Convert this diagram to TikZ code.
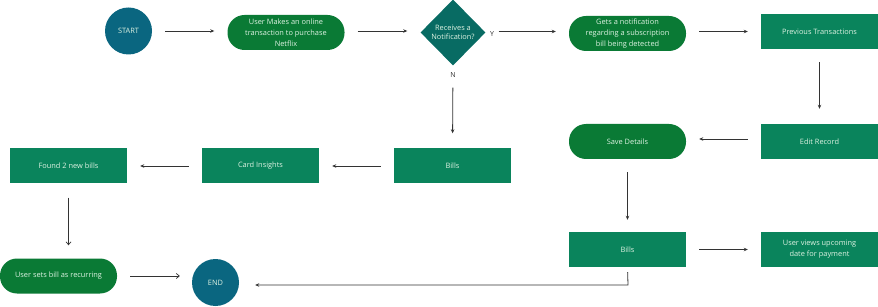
\documentclass[tikz,border=0pt]{standalone}
\usepackage{fontspec}
\setmainfont{Open Sans}
\usetikzlibrary{shapes.geometric,arrows.meta}
\definecolor{circcol}{HTML}{0A6680}
\definecolor{diamcol}{HTML}{086B63}
\definecolor{pillcol}{HTML}{0A7A35}
\definecolor{rectcol}{HTML}{0A845C}
\definecolor{txtcol}{HTML}{DDF2E2}
\definecolor{linecol}{HTML}{333333}
\begin{document}
\begin{tikzpicture}[x=1pt,y=-1pt,
  base/.style={text=txtcol,font=\fontsize{7.4}{10.8}\selectfont,align=center,inner sep=0pt},
  circ/.style={base,circle,fill=circcol,minimum size=47pt},
  pill/.style={base,rectangle,rounded corners=17pt,fill=pillcol,minimum width=117pt,minimum height=35pt},
  rectbox/.style={base,rectangle,fill=rectcol,minimum width=117pt,minimum height=35pt},
  diam/.style={base,diamond,fill=diamcol,minimum width=65pt,minimum height=66pt,font=\fontsize{7.4}{9.5}\selectfont},
  conn/.style={draw=linecol,line width=0.8pt,-{Stealth[length=4pt,width=3.5pt]},shorten <=13pt,shorten >=13pt},
  openconn/.style={draw=linecol,line width=0.7pt,-{Straight Barb[length=3pt,width=5pt]},shorten <=13pt,shorten >=13pt},
  lbl/.style={font=\fontsize{7}{8}\selectfont,text=linecol,inner sep=0pt}]
\useasboundingbox (0,0) rectangle (878,307);
% nodes
\node[circ] (start) at (128.5,31) {START};
\node[pill] (user) at (286,32.5) {User Makes an online\\transaction to purchase\\Netflix};
\node[diam] (diam) at (453,32.5) {Receives a\\Notification?};
\node[pill] (notif) at (627.5,33.5) {Gets a notification\\regarding a subscription\\bill being detected};
\node[rectbox] (prev) at (819.5,31.5) {Previous Transactions};
\node[rectbox] (edit) at (819.5,141.5) {Edit Record};
\node[pill] (save) at (627.5,141.5) {Save Details};
\node[rectbox] (billsb) at (627.5,249.5) {Bills};
\node[rectbox] (views) at (819.5,249.5) {User views upcoming\\date for payment};
\node[rectbox] (bills) at (452.5,166) {Bills};
\node[rectbox] (card) at (260.5,166) {Card Insights};
\node[rectbox] (found) at (68.5,166) {Found 2 new bills};
\node[pill] (sets) at (58.5,276) {User sets bill as recurring};
\node[circ] (end) at (215.5,282.5) {END};
\node[lbl] (ylbl) at (492,34) {Y};
\node[lbl] (nlbl) at (453,75) {N};
% connectors
\draw[conn] (start.east) -- (start.east -| user.west);
\draw[conn] (user.east |- start.east) -- (start.east -| diam.west);
\draw[conn] (diam.east) ++(0,-1) coordinate (de) (de) -- (de -| notif.west);
\draw[conn] (notif.east |- prev.west) -- (prev.west);
\draw[conn,shorten >=15pt] (prev.south) -- (edit.north);
\draw[conn] (edit.west) ++(0,-2.5) coordinate (ew) (ew) -- (ew -| save.east);
\draw[conn,shorten >=12pt] (save.south) -- (billsb.north);
\draw[conn] (billsb.east) -- (views.west);
\draw[conn,shorten <=22pt,shorten >=15pt] (diam.south) -- (bills.north);
\draw[conn] (bills.west) -- (card.east);
\draw[conn] (card.west) -- (found.west -| found.east);
\draw[openconn,shorten <=14pt] (found.south) -- (found.south |- sets.north);
\draw[openconn,shorten >=12pt] (sets.east) -- (sets.east -| end.west);
\coordinate (corner) at (628,285);
\draw[conn,shorten <=5pt,shorten >=16pt] (billsb.south) -- (corner) -- (corner -| end.east);
\end{tikzpicture}
\end{document}
